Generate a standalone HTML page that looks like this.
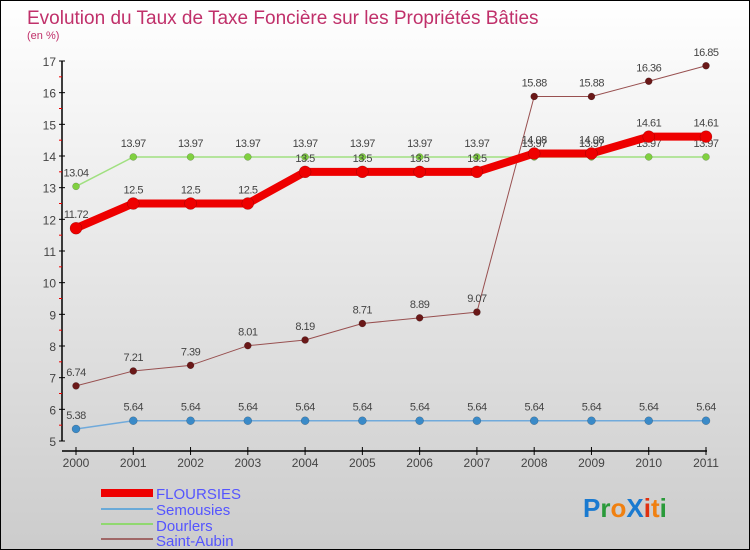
<!DOCTYPE html>
<html><head><meta charset="utf-8"><style>
body{margin:0}
#c{width:748px;height:548px;border:1px solid #000;background:linear-gradient(#fff,#ccc);position:relative;font-family:"Liberation Sans",sans-serif;overflow:hidden}
</style></head><body>
<div id="c">
<svg width="748" height="548" id="s" style="position:absolute;left:0;top:0">
<text x="26" y="23" font-size="19" fill="#c0306a">Evolution du Taux de Taxe Foncière sur les Propriétés Bâties</text>
<text x="26" y="38" font-size="11" fill="#c0306a">(en %)</text>
<g id="axes"></g><g id="series"></g>
<g>
<rect x="100" y="488" width="52" height="8" fill="#e00"/>
<text x="155" y="498" font-size="15" fill="#55f">FLOURSIES</text>
<rect x="100" y="507" width="52" height="2" fill="#6aaad8"/>
<text x="155" y="514" font-size="15" fill="#55f">Semousies</text>
<rect x="100" y="522" width="52" height="2" fill="#90d870"/>
<text x="155" y="530" font-size="15" fill="#55f">Dourlers</text>
<rect x="100" y="537" width="52" height="2" fill="#a06868"/>
<text x="155" y="545" font-size="15" fill="#55f">Saint-Aubin</text>
</g>
<text x="582" y="516" font-size="26" font-weight="bold"><tspan fill="#1a7ad0">P</tspan><tspan fill="#2a9a3a">r</tspan><tspan fill="#f08010">o</tspan><tspan fill="#1a7ad0">X</tspan><tspan fill="#e03010">i</tspan><tspan fill="#f08010">t</tspan><tspan fill="#2a9a3a">i</tspan></text>
</svg>
</div>
<script>
const years=[2000,2001,2002,2003,2004,2005,2006,2007,2008,2009,2010,2011];
const yTicks=[5,6,7,8,9,10,11,12,13,14,15,16,17];
const floursies=[11.72,12.5,12.5,12.5,13.5,13.5,13.5,13.5,14.08,14.08,14.61,14.61];
const semousies=[5.38,5.64,5.64,5.64,5.64,5.64,5.64,5.64,5.64,5.64,5.64,5.64];
const dourlers=[13.04,13.97,13.97,13.97,13.97,13.97,13.97,13.97,13.97,13.97,13.97,13.97];
const saintAubin=[6.74,7.21,7.39,8.01,8.19,8.71,8.89,9.07,15.88,15.88,16.36,16.85];
const NS="http://www.w3.org/2000/svg";
const xs=i=>75+i*(630/11);
const ys=v=>440-(v-5)*(380/12);
function mk(t,a,p){const e=document.createElementNS(NS,t);for(const k in a)e.setAttribute(k,a[k]);p.appendChild(e);return e;}
const ax=document.getElementById('axes'),se=document.getElementById('series');
let l=mk('line',{x1:61,y1:60,x2:61,y2:440,stroke:'#000','stroke-width':1.5},ax);

l=mk('line',{x1:61,y1:450,x2:706,y2:450,stroke:'#000','stroke-width':1.5},ax);

yTicks.forEach((v,i)=>{
 mk('line',{x1:58,x2:64,y1:ys(v),y2:ys(v),stroke:'#000'},ax);
 if(i<yTicks.length-1)mk('line',{x1:58,x2:61,y1:ys(v+0.5),y2:ys(v+0.5),stroke:'#e00'},ax);
 const t=mk('text',{x:55,y:ys(v)+5,'font-size':12,fill:'#444','text-anchor':'end'},ax);t.textContent=v;
 
});
years.forEach((y,i)=>{
 mk('line',{x1:xs(i),x2:xs(i),y1:446,y2:454,stroke:'#000'},ax);
 const t=mk('text',{x:xs(i),y:466,'font-size':12,fill:'#444','text-anchor':'middle'},ax);t.textContent=y;
 
});
function series(d,name,col,w,ptc,r){
 const g=mk('g',{},se);
 
 const p=mk('polyline',{points:d.map((v,i)=>xs(i)+','+ys(v)).join(' '),fill:'none',stroke:col,'stroke-width':w,'stroke-linejoin':'round'},g);
 
 d.forEach((v,i)=>{
  const c=mk('circle',{cx:xs(i),cy:ys(v),r:r,fill:ptc,stroke:'rgba(0,0,0,0.3)','stroke-width':0.5},g);
  
  const t=mk('text',{x:xs(i),y:ys(v)-10,'font-size':11,fill:'#444','text-anchor':'middle','letter-spacing':'-0.5'},g);
  t.textContent=String(v);
  
 });
}
series(dourlers,'dourlers','#a0e080',1.5,'#80d040',3.5);
series(semousies,'semousies','#70aadb',1.5,'#3a8ac8',4);
series(saintAubin,'saint-aubin','#985050',1,'#6a1818',3.5);
series(floursies,'floursies','#ee0000',8,'#ee0000',6);
</script>
</body></html>
